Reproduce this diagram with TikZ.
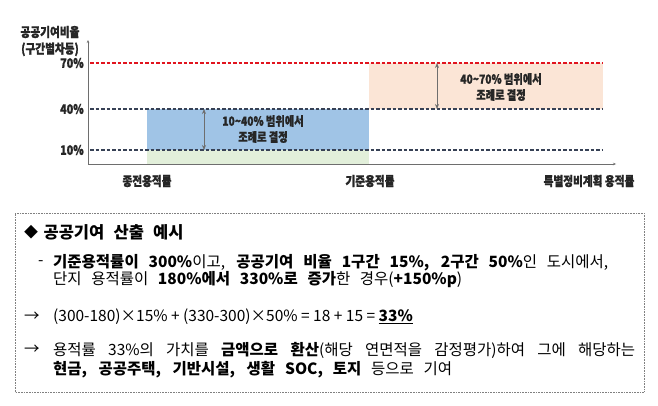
\documentclass[tikz,border=0pt]{standalone}
\usepackage{fontspec}
\setmainfont{Noto Sans CJK KR}
\newfontfamily\chartfont{Noto Sans CJK KR}[FakeStretch=0.82, BoldFeatures={FakeBold=1.2}]
\definecolor{rateRed}{RGB}{225,20,30}
\definecolor{rateNavy}{RGB}{55,65,85}
\definecolor{rateBlue}{RGB}{160,196,230}
\definecolor{rateGreen}{RGB}{226,239,218}
\definecolor{rateOrange}{RGB}{251,229,214}
\definecolor{rateGray}{RGB}{110,110,110}
\usetikzlibrary{arrows.meta,positioning}
\newcommand\spreadline[2]{\makebox[#1][s]{#2}}

\begin{document}
\begin{tikzpicture}[x=1pt, y=1pt,
  axis/.style={-{Stealth[length=3pt,width=2.5pt]}, rateGray, line width=0.7pt},
  lvl/.style={dashed, dash pattern=on 3.5pt off 2pt, line width=1.1pt},
  span/.style={{Stealth[length=5pt,width=4pt]}-{Stealth[length=5pt,width=4pt]}, rateGray, line width=0.9pt},
  lbl/.style={font=\chartfont\bfseries\fontsize{13}{15}\selectfont, text=black!85, inner sep=0pt},
  note/.style={font=\chartfont\bfseries\fontsize{12.5}{16}\selectfont, align=center, text=black!85, inner sep=0pt},
  body/.style={anchor=west, inner sep=0pt, font=\fontsize{15.5}{18}\selectfont}
]
  \fill[white] (0,0) rectangle (658,405);
  \useasboundingbox (0,0) rectangle (658,405);

  % chart frame
  \coordinate (o)    at (88,241);
  \coordinate (ytop) at (88,365);
  \coordinate (xend) at (616,241);

  % shaded ranges
  \fill[rateGreen]  (147,241) rectangle (369,255);
  \fill[rateBlue]   (147,255) rectangle (369,296);
  \fill[rateOrange] (369,296) rectangle (603,342);

  \draw[axis] (o) -- (ytop);
  \draw[axis] (o) -- (xend);

  \coordinate (l70a) at (90,342);  \coordinate (l70b) at (603,342);
  \coordinate (l40a) at (90,296);  \coordinate (l40b) at (603,296);
  \coordinate (l10a) at (90,255);  \coordinate (l10b) at (603,255);
  \draw[lvl, rateRed]  (l70a) -- (l70b);
  \draw[lvl, rateNavy] (l40a) -- (l40b);
  \draw[lvl, rateNavy] (l10a) -- (l10b);

  \node[lbl] (p70) at (72,342) {70\%};
  \node[lbl] (p40) at (72,296) {40\%};
  \node[lbl] (p10) at (72,255) {10\%};
  \node[lbl] (ytitle) at (50,373) {공공기여비율};
  \node[lbl, below=4pt of ytitle] (ysub) {(구간별차등)};

  \node[lbl] (prev) at (147,224) {종전용적률};
  \node[lbl] (base) at (370,224) {기준용적률};
  \node[lbl] (spec) at (589,224) {특별정비계획 용적률};

  % range arrows
  \coordinate (b40) at (204,296); \coordinate (b10) at (204,255);
  \coordinate (o70) at (437,342); \coordinate (o40) at (437,296);
  \draw[span] (b40) -- (b10);
  \draw[span] (o70) -- (o40);
  \node[note] (blueNote)   at (263,276) {10\textasciitilde40\% 범위에서\\조례로 결정};
  \node[note] (orangeNote) at (501,318) {40\textasciitilde70\% 범위에서\\조례로 결정};

  % example box
  \draw[densely dotted, gray, line width=0.6pt] (15,13) rectangle (644,192);

  \node[body, font=\fontsize{14}{16}\selectfont] (mark) at (24,173) {◆};
  \node[body, right=5pt of mark, font=\bfseries\fontsize{16.5}{18}\selectfont] (title) {\spreadline{140pt}{공공기여 산출 예시}};
  \node[body] (dash) at (38,142) {-};
  \node[body] (line1) at (53,142) {\spreadline{555pt}{\textbf{기준용적률이 300\%}이고, \textbf{공공기여 비율 1구간 15\%, 2구간 50\%}인 도시에서,}};
  \node[body] (line2) at (53,125) {\spreadline{409pt}{단지 용적률이 \textbf{180\%에서 330\%로 증가}한 경우(\textbf{+150\%p})}};
  \node[body] (arr1) at (24,88) {→};
  \node[body] (calc) at (53,88) {(300-180)×15\% + (330-300)×50\% = 18 + 15 = \textbf{\underline{33\%}}};
  \node[body] (arr2) at (24,55) {→};
  \node[body] (note1) at (53,55) {\spreadline{582pt}{용적률 33\%의 가치를 \textbf{금액으로 환산}(해당 연면적을 감정평가)하여 그에 해당하는}};
  \node[body] (note2) at (53,35) {\spreadline{399pt}{\textbf{현금, 공공주택, 기반시설, 생활 SOC, 토지} 등으로 기여}};
\end{tikzpicture}
\end{document}
